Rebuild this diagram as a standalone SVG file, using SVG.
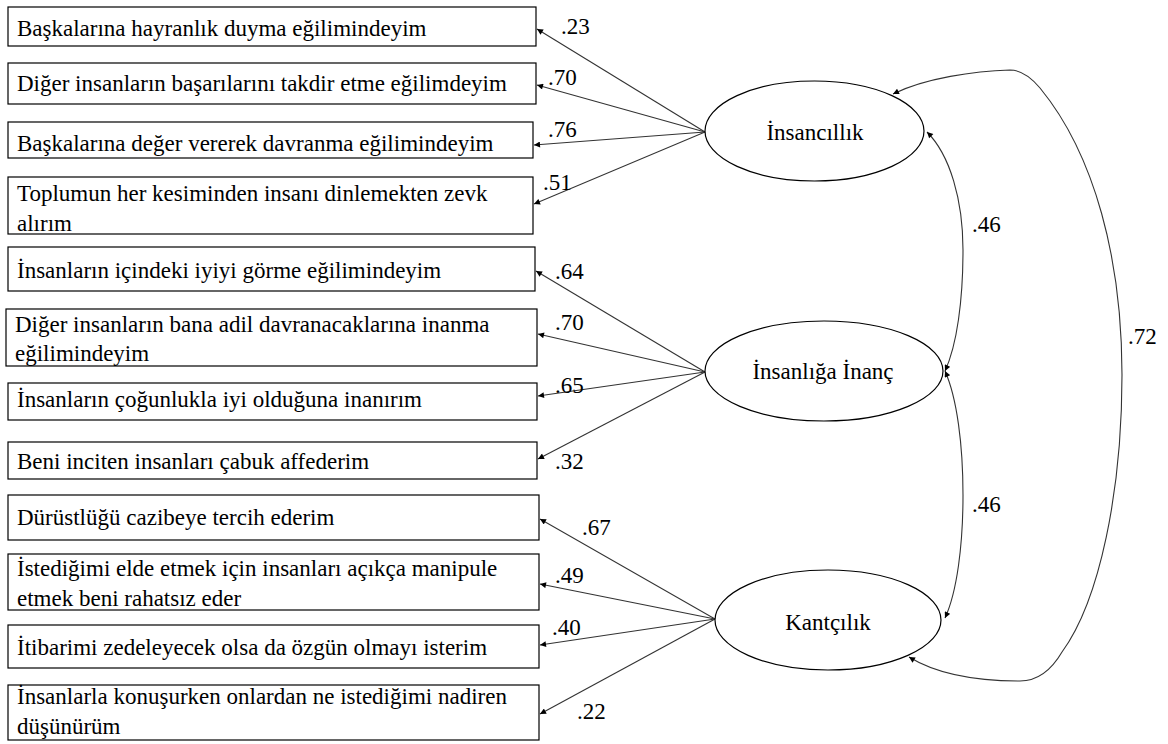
<svg xmlns="http://www.w3.org/2000/svg" width="1168" height="744" viewBox="0 0 1168 744" font-family="'Liberation Serif', 'Times New Roman', serif">
<defs>
<marker id="ah" viewBox="0 0 10 10" refX="10" refY="5" markerWidth="8" markerHeight="6" markerUnits="userSpaceOnUse" orient="auto-start-reverse">
<path d="M0,0 L10,5 L0,10 z" fill="#000"/>
</marker>
<style>
.box{fill:#fff;stroke:#000;stroke-width:1.2}
.ell{fill:#fff;stroke:#000;stroke-width:1.2}
.t{font-size:23px;fill:#000}
.c{text-anchor:middle}
.ln{fill:none;stroke:#333;stroke-width:1.1;marker-end:url(#ah)}
.cv{fill:none;stroke:#333;stroke-width:1.1;marker-start:url(#ah);marker-end:url(#ah)}
</style>
</defs>
<rect width="1168" height="744" fill="#fff"/>
<g id="connectors">
<line class="ln" x1="705" y1="132" x2="537" y2="29"/>
<line class="ln" x1="705" y1="132" x2="537" y2="85"/>
<line class="ln" x1="705" y1="132" x2="534" y2="145"/>
<line class="ln" x1="705" y1="132" x2="534" y2="204"/>
<line class="ln" x1="705" y1="372" x2="536" y2="271"/>
<line class="ln" x1="705" y1="372" x2="538" y2="334"/>
<line class="ln" x1="705" y1="372" x2="538" y2="396"/>
<line class="ln" x1="705" y1="372" x2="538" y2="459"/>
<line class="ln" x1="715" y1="619" x2="540" y2="519"/>
<line class="ln" x1="715" y1="619" x2="540" y2="584"/>
<line class="ln" x1="715" y1="619" x2="540" y2="645"/>
<line class="ln" x1="715" y1="619" x2="540" y2="714"/>
<path class="cv" d="M927 132 C950 155 963 200 963 250 C963 300 957 345 945 371"/>
<path class="cv" d="M945 371 C957 398 963 445 963 495 C963 545 957 592 945 618"/>
<path class="cv" d="M893 94 C925 78 975 71 1010 70 Q1025 70 1040 88 C1095 155 1122 260 1122 375 C1122 490 1100 600 1062 652 Q1045 681 1020 681 C975 681 935 673 909 657"/>
<g class="t">
<text x="561" y="34">.23</text>
<text x="548" y="85">.70</text>
<text x="548" y="137">.76</text>
<text x="543" y="190">.51</text>
<text x="555" y="279">.64</text>
<text x="555" y="330">.70</text>
<text x="555" y="393">.65</text>
<text x="555" y="469">.32</text>
<text x="582" y="535">.67</text>
<text x="555" y="583">.49</text>
<text x="552" y="635">.40</text>
<text x="577" y="719">.22</text>
<text x="972" y="232">.46</text>
<text x="972" y="512">.46</text>
<text x="1128" y="344">.72</text>
</g>
</g>
<g id="item1"><rect class="box" x="8" y="7" width="528" height="39"/><text class="t" x="17" y="36">Başkalarına hayranlık duyma eğilimindeyim</text></g>
<g id="item2"><rect class="box" x="8" y="63" width="528" height="41"/><text class="t" x="17" y="91">Diğer insanların başarılarını takdir etme eğilimdeyim</text></g>
<g id="item3"><rect class="box" x="8" y="122" width="525" height="36"/><text class="t" x="17" y="151">Başkalarına değer vererek davranma eğilimindeyim</text></g>
<g id="item4"><rect class="box" x="8" y="177" width="525" height="57"/><text class="t" x="17" y="201">Toplumun her kesiminden insanı dinlemekten zevk</text><text class="t" x="17" y="231">alırım</text></g>
<g id="item5"><rect class="box" x="8" y="247" width="527" height="44"/><text class="t" x="17" y="278">İnsanların içindeki iyiyi görme eğilimindeyim</text></g>
<g id="item6"><rect class="box" x="6" y="309" width="531" height="57"/><text class="t" x="15" y="332">Diğer insanların bana adil davranacaklarına inanma</text><text class="t" x="15" y="361">eğilimindeyim</text></g>
<g id="item7"><rect class="box" x="8" y="383" width="529" height="37"/><text class="t" x="17" y="407">İnsanların çoğunlukla iyi olduğuna inanırım</text></g>
<g id="item8"><rect class="box" x="8" y="442" width="529" height="37"/><text class="t" x="17" y="469">Beni inciten insanları çabuk affederim</text></g>
<g id="item9"><rect class="box" x="8" y="495" width="531" height="45"/><text class="t" x="17" y="525">Dürüstlüğü cazibeye tercih ederim</text></g>
<g id="item10"><rect class="box" x="8" y="554" width="531" height="56"/><text class="t" x="17" y="576">İstediğimi elde etmek için insanları açıkça manipule</text><text class="t" x="17" y="606">etmek beni rahatsız eder</text></g>
<g id="item11"><rect class="box" x="8" y="625" width="531" height="43"/><text class="t" x="17" y="655">İtibarimi zedeleyecek olsa da özgün olmayı isterim</text></g>
<g id="item12"><rect class="box" x="8" y="685" width="531" height="55"/><text class="t" x="17" y="704">İnsanlarla konuşurken onlardan ne istediğimi nadiren</text><text class="t" x="17" y="734">düşünürüm</text></g>
<g id="insancillik"><ellipse class="ell" cx="814.5" cy="131" rx="109.5" ry="50"/><text class="t c" x="815" y="140">İnsancıllık</text></g>
<g id="insanliga-inanc"><ellipse class="ell" cx="824" cy="371" rx="119" ry="50"/><text class="t c" x="823" y="379">İnsanlığa İnanç</text></g>
<g id="kantcilik"><ellipse class="ell" cx="828" cy="620" rx="113" ry="50"/><text class="t c" x="828" y="630">Kantçılık</text></g>
</svg>
